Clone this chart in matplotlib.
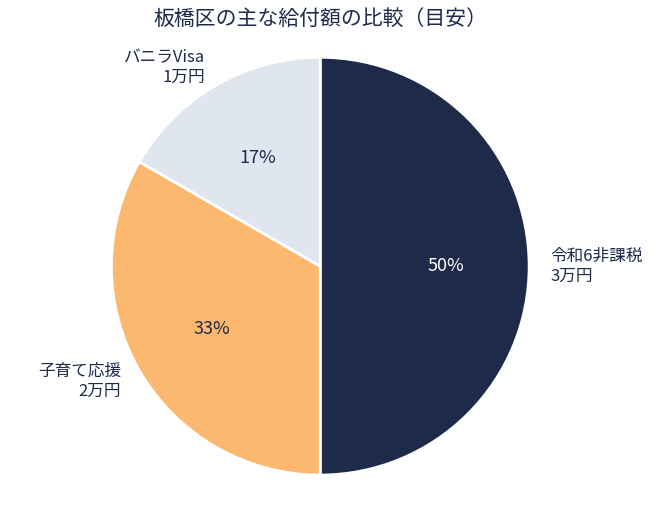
import matplotlib
matplotlib.use("Agg")
import matplotlib.pyplot as plt

plt.rcParams['font.family'] = ['Noto Sans CJK JP', 'DejaVu Sans']

labels = ["令和6非課税\n3万円", "子育て応援\n2万円", "バニラVisa\n1万円"]
values = [3, 2, 1]
colors = ["#1e2a4a", "#fdb870", "#e0e6ef"]
text_color = "#1e2a4a"

fig = plt.figure(figsize=(6.7, 5.07), dpi=100)
ax = fig.add_axes([0.478 - 0.312, 0.475 - 0.412, 0.624, 0.824])
wedges, texts, autotexts = ax.pie(
    values, labels=labels, colors=colors, startangle=90, counterclock=False,
    autopct='%1.0f%%', pctdistance=0.6, labeldistance=1.1,
    wedgeprops=dict(edgecolor='white', linewidth=2),
    textprops=dict(color=text_color, fontsize=12))
autotexts[0].set_color('white')
for t in autotexts:
    t.set_fontsize(13)
ax.set_aspect('equal')
ax.set_xlim(-1, 1)
ax.set_ylim(-1, 1)
fig.text(0.478, 0.962, "板橋区の主な給付額の比較（目安）", ha='center', va='center',
         fontsize=15, color=text_color)
fig.savefig("out.png", dpi=100)
